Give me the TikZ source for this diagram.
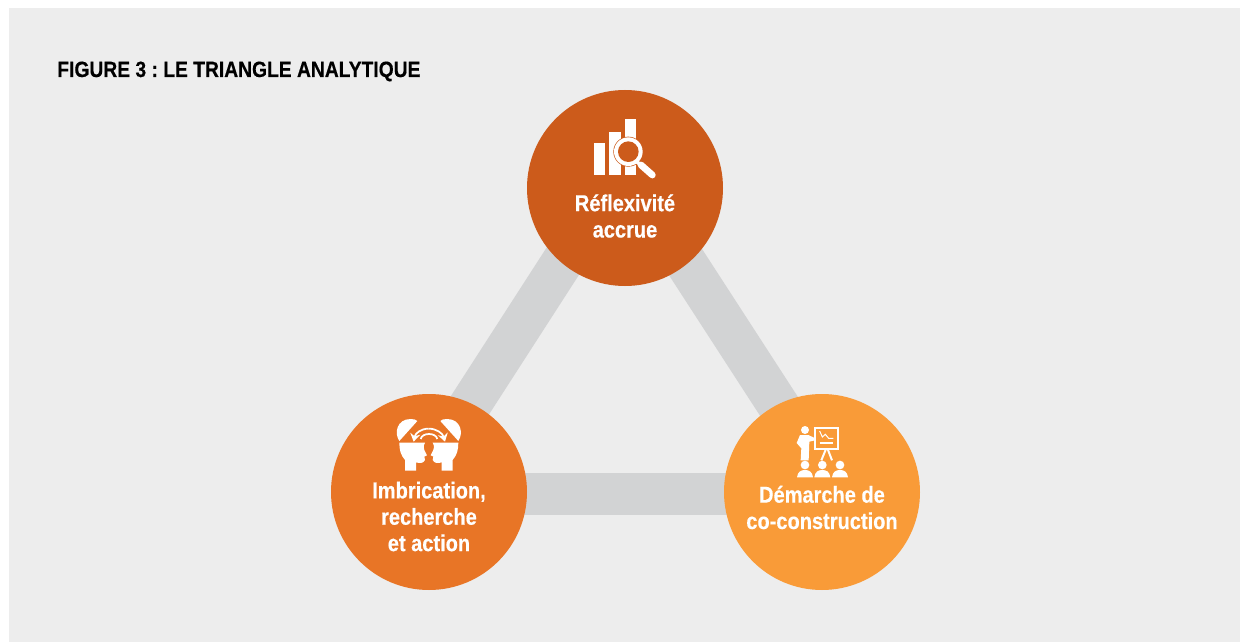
\documentclass[tikz,border=0pt]{standalone}
\usepackage{fontspec}
\usetikzlibrary{arrows.meta}
\newfontfamily\figfont[FakeStretch=0.87,FakeBold=0.4]{Liberation Sans Bold}
\definecolor{panel}{HTML}{EDEDED}
\definecolor{barcol}{HTML}{D2D3D4}
\definecolor{ctop}{HTML}{CC5B1B}
\definecolor{cleft}{HTML}{E87526}
\definecolor{cright}{HTML}{F99B38}
\tikzset{
  disc/.style={circle,minimum size=3.92cm,inner sep=0pt,draw=none},
  linkbar/.style={draw=barcol,line width=0.84cm},
  lab/.style={text=white,align=center,font=\figfont\fontsize{13.1}{15}\selectfont,inner sep=0pt},
  iconpx/.style={x=0.02cm/3,y=-0.02cm/3},
}
\begin{document}
\frenchspacing
\begin{tikzpicture}[x=0.02cm,y=-0.02cm]
\useasboundingbox (0,0) rectangle (1242,642);
\fill[white] (0,0) rectangle (1242,642);
\fill[panel] (9,8) rectangle (1240,642);
\node[anchor=base west,inner sep=0pt,font=\figfont\fontsize{12.6}{15}\selectfont] (title) at (57,77) {FIGURE 3 : LE TRIANGLE ANALYTIQUE};
\coordinate (nt) at (625,188);
\coordinate (nl) at (429,492);
\coordinate (nr) at (822,492);
\path (nt) node[disc] (top) {};
\path (nl) node[disc] (left) {};
\path (nr) node[disc] (right) {};
\draw[linkbar] ([xshift=-0.3cm]top.center) -- ([xshift=-0.3cm]left.center);
\draw[linkbar] ([xshift=0.25cm]top.center) -- ([xshift=0.25cm]right.center);
\draw[linkbar] ([yshift=-0.04cm]left.center) -- ([yshift=-0.04cm]right.center);
\fill[ctop] (nt) circle (98);
\fill[cleft] (nl) circle (98);
\fill[cright] (nr) circle (98);
\node[lab] (ltop) at (625,216) {Réflexivité\\accrue};
\node[lab] (lleft) at (429,516.5) {Imbrication,\\recherche\\et action};
\node[lab] (lright) at (822,507.5) {Démarche de\\co-construction};
% icon: bars and magnifier
\begin{scope}[shift={(570,100)},iconpx]
\fill[white] (72,128) rectangle (105,225);
\fill[white] (118,97) rectangle (152,225);
\fill[white] (165,57) rectangle (198,225);
\fill[ctop] (175,155) circle (45);
\fill[white] (175,155) circle (43);
\fill[ctop] (175,155) circle (31);
\draw[white,line width=0.07cm] (200,185) -- (215,197);
\draw[white,line width=0.135cm,line cap=round] (213,195) -- (247,225);
\end{scope}
% icon: two heads
\begin{scope}[shift={(380,405)},iconpx]
\foreach \s/\o in {1/0,-1/293}{
\begin{scope}[shift={(\o,0)},xscale=\s]
\fill[white] (58,108) .. controls (42,85) and (50,42) .. (92,42) .. controls (102,42) and (108,44) .. (112,48) -- cycle;
\fill[white] (58,113) -- (135,113) .. controls (128,125) and (133,132) .. (133,135) -- (141,151) -- (133,155) -- (135,165) .. controls (130,175) and (120,176) .. (108,172) -- (108,197) -- (75,197) -- (75,165) .. controls (62,150) and (58,135) .. (58,113) -- cycle;
\end{scope}}
\draw[white,line width=0.035cm,-{Stealth[length=0.16cm,width=0.2cm]}] (146,71) .. controls (122,71) and (106,85) .. (101,110);
\draw[white,line width=0.035cm,-{Stealth[length=0.16cm,width=0.2cm]}] (146,71) .. controls (170,71) and (188,85) .. (195,110);
\draw[white,line width=0.035cm] (122,102) .. controls (126,82) and (168,82) .. (172,102);
\end{scope}
% icon: presenter
\begin{scope}[shift={(780,415)},iconpx]
\draw[white,line width=0.04cm] (104,38) rectangle (175,102);
\draw[white,line width=0.02cm] (119,48) -- (127,66) -- (136,58) -- (146,70) -- (160,70);
\draw[white,line width=0.025cm] (119,84) -- (160,84);
\draw[white,line width=0.04cm] (138,102) -- (124,136);
\draw[white,line width=0.04cm] (143,102) -- (156,136);
\fill[white] (75,45) circle (12);
\fill[white] (60,60) -- (85,60) -- (102,68) -- (106,76) -- (88,80) -- (86,136) -- (62,136) -- (64,100) -- (50,84) -- cycle;
\foreach \c in {75,127,180}{
\fill[white] (\c,150) circle (13);
\fill[white] (\c-24,187) .. controls (\c-22,170) and (\c-12,165) .. (\c,165) .. controls (\c+12,165) and (\c+22,170) .. (\c+24,187) -- cycle;
}
\end{scope}
\end{tikzpicture}
\end{document}
